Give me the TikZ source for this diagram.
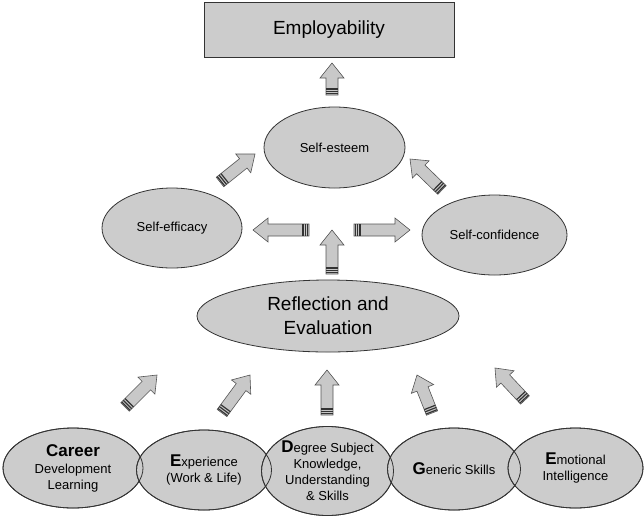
\documentclass[tikz,border=0pt]{standalone}
\usepackage{fontspec}
\setmainfont{Liberation Sans}
\usetikzlibrary{shapes.geometric,calc}
\definecolor{ellfill}{HTML}{CCCCCC}
\definecolor{edgecol}{HTML}{333333}
\definecolor{arrfill}{HTML}{C8C8C8}
\definecolor{arredge}{HTML}{555555}
\definecolor{stripecol}{HTML}{333333}
\tikzset{
  bubble/.style={ellipse, fill=ellfill, draw=edgecol, line width=0.8pt, inner sep=0pt, outer sep=0pt,
    align=center, font=\fontsize{13}{16}\selectfont},
  pics/barrow/.style={code={
    \filldraw[fill=arrfill, draw=arredge, line width=0.6pt, line join=miter]
      (0,-6) -- ({#1-15},-6) -- ({#1-15},-12) -- (#1,0) -- ({#1-15},12) -- ({#1-15},6) -- (0,6) -- cycle;
    \foreach \s in {1.2,3.6,6.0} \draw[stripecol, line width=1.2pt] (\s,-6) -- (\s,6);
  }}
}
\newcommand\BigL[1]{{\fontsize{17}{16}\selectfont\bfseries #1}}
\newcommand\barrowfromto[2]{%
  \path let \p1=($(#2)-(#1)$) in \pgfextra{%
    \pgfmathsetmacro\bangtmp{atan2(\y1,\x1)}\pgfmathsetmacro\blentmp{veclen(\x1,\y1)}%
    \global\let\bangG\bangtmp\global\let\blenG\blentmp};
  \pic[rotate=\bangG] at (#1) {barrow=\blenG};
}
\begin{document}
\begin{tikzpicture}[x=1pt,y=-1pt]
\useasboundingbox (0,0) rectangle (644,517);

% top box
\node[rectangle, draw=edgecol, fill=ellfill, line width=0.8pt, minimum width=250pt, minimum height=55pt,
  inner sep=0pt, font=\fontsize{19}{22}\selectfont] (emp) at (329,29.5) {Employability};

% middle ellipses
\node[bubble, minimum width=141pt, minimum height=81pt] (esteem) at (334.5,147.5) {Self-esteem};
\node[bubble, minimum width=140pt, minimum height=80pt] (efficacy) at (172,228) {Self-efficacy};
\node[bubble, minimum width=145pt, minimum height=80pt] (confidence) at (494.5,235) {Self-confidence};
\node[bubble, minimum width=262pt, minimum height=72pt, font=\fontsize{19}{24}\selectfont] (reflect) at (328,316) {Reflection and\\Evaluation};

% bottom ellipses
\node[bubble, minimum width=140pt, minimum height=80pt] (career) at (73,468) {\BigL{Career}\\[1pt]Development\\Learning};
\node[bubble, minimum width=135pt, minimum height=80pt] (experience) at (204,470) {\BigL{E}xperience\\(Work \& Life)};
\node[bubble, minimum width=132pt, minimum height=89pt] (degree) at (327.5,471) {\BigL{D}egree Subject\\Knowledge,\\Understanding\\\& Skills};
\node[bubble, minimum width=133pt, minimum height=82pt] (generic) at (454,469) {\BigL{G}eneric Skills};
\node[bubble, minimum width=135pt, minimum height=80pt] (emotional) at (575.5,468) {\BigL{E}motional\\Intelligence};

% outlines on top where the bottom ellipses overlap
\foreach \nm in {career,experience,degree,generic,emotional}
  \draw[edgecol, line width=0.8pt] let \p1=($(\nm.east)-(\nm.center)$), \p2=($(\nm.north)-(\nm.center)$) in
    (\nm.center) ellipse [x radius=\x1, y radius=\y2];

% arrow end points
\coordinate (t0) at (332,95);  \coordinate (h0) at (332,63);
\coordinate (t1) at (220,182); \coordinate (h1) at (255,154);
\coordinate (t2) at (442,190); \coordinate (h2) at (410,159);
\coordinate (t3) at (309,230); \coordinate (h3) at (253,230);
\coordinate (t4) at (354,230); \coordinate (h4) at (410,230);
\coordinate (t5) at (332,274); \coordinate (h5) at (332,230);
\coordinate (t6) at (125,407); \coordinate (h6) at (157,375);
\coordinate (t7) at (222,413); \coordinate (h7) at (250,375);
\coordinate (t8) at (327,415); \coordinate (h8) at (327,370);
\coordinate (t9) at (432,413); \coordinate (h9) at (417,375);
\coordinate (t10) at (525,400); \coordinate (h10) at (495,368);

\foreach \i in {0,...,10} {\barrowfromto{t\i}{h\i}}
\end{tikzpicture}
\end{document}
